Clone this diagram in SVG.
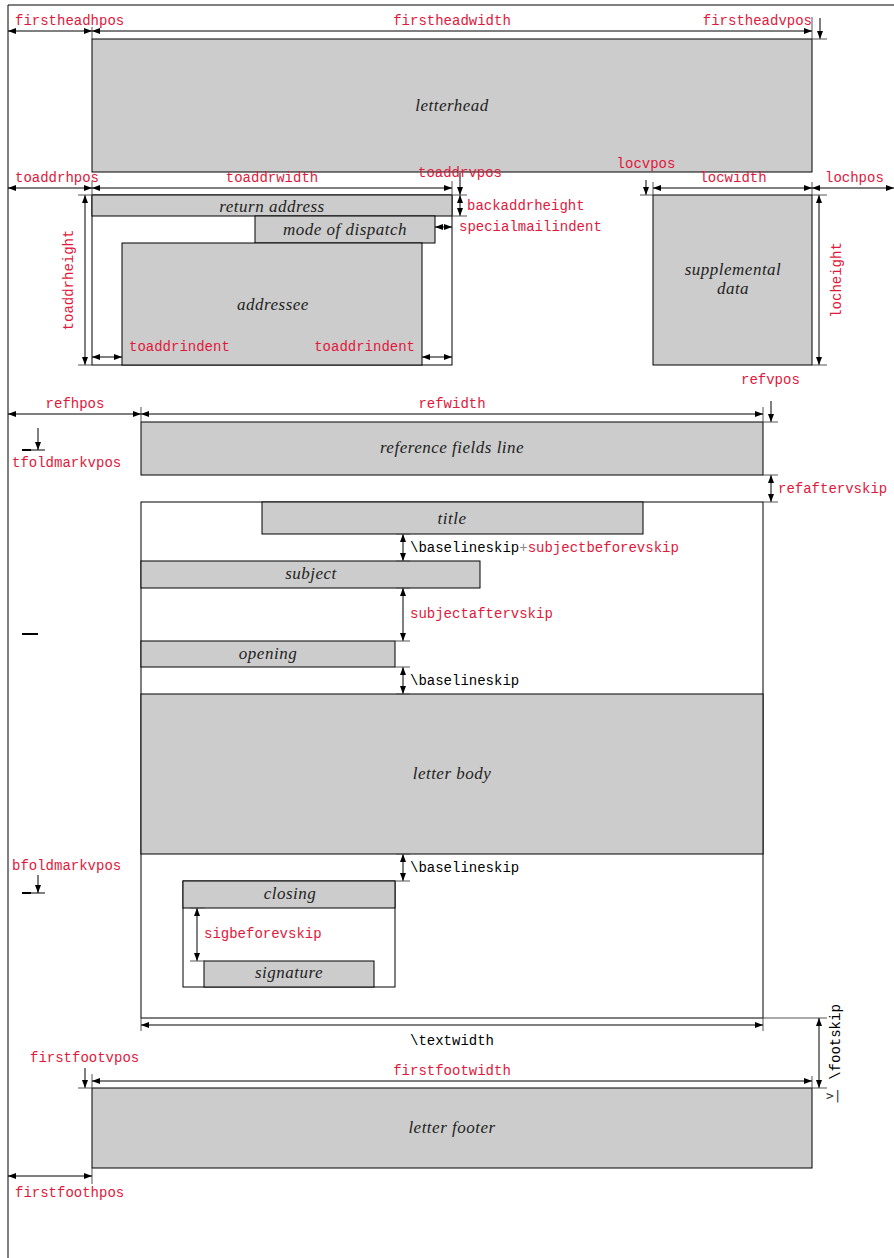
<svg xmlns="http://www.w3.org/2000/svg" width="894" height="1258" viewBox="0 0 894 1258">
<defs>
<marker id="ah" viewBox="0 0 8 6" refX="8" refY="3" markerWidth="8" markerHeight="6" markerUnits="userSpaceOnUse" orient="auto-start-reverse">
<path d="M0,0 L8,3 L0,6 Z" fill="#000"/>
</marker>
</defs>
<style>
.box{fill:#cccccc;stroke:#000;stroke-width:1}
.frame{fill:none;stroke:#000;stroke-width:1}
.dim{stroke:#000;stroke-width:1;fill:none;marker-start:url(#ah);marker-end:url(#ah)}
.one{stroke:#000;stroke-width:1;fill:none;marker-end:url(#ah)}
.ext{stroke:#555;stroke-width:1;fill:none}
.mark{stroke:#000;stroke-width:2}
.lbl{font-family:"Liberation Mono","DejaVu Sans Mono",monospace;font-size:14px;fill:#e0183c}
.blk{font-family:"Liberation Mono","DejaVu Sans Mono",monospace;font-size:14px;fill:#000}
.it{font-family:"Liberation Serif","DejaVu Serif",serif;font-style:italic;font-size:17px;letter-spacing:0.5px;fill:#222;text-anchor:middle}
.mid{text-anchor:middle}
.end{text-anchor:end}
</style>
<g id="page">
<line class="frame" x1="8" y1="5" x2="894" y2="5"/>
<line class="frame" x1="8" y1="5" x2="8" y2="1258"/>
</g>
<g id="letterhead"><rect class="box" x="92" y="39" width="720" height="133"/><text class="it" x="452" y="111">letterhead</text></g>
<g id="addressfield"><rect class="frame" x="92" y="195" width="360" height="170" fill="#fff"/></g>
<g id="returnaddress"><rect class="box" x="92" y="195" width="360" height="21"/><text class="it" x="272" y="212">return address</text></g>
<g id="dispatch"><rect class="box" x="255" y="216" width="180" height="27"/><text class="it" x="345" y="235">mode of dispatch</text></g>
<g id="addressee"><rect class="box" x="122" y="243" width="300" height="122"/><text class="it" x="273" y="310">addressee</text></g>
<g id="location"><rect class="box" x="653" y="195" width="159" height="170"/><text class="it" x="733" y="275">supplemental</text><text class="it" x="733" y="294">data</text></g>
<g id="reffields"><rect class="box" x="141" y="422" width="622" height="53"/><text class="it" x="452" y="453">reference fields line</text></g>
<g id="textbody"><rect class="frame" x="141" y="502" width="622" height="516"/></g>
<g id="title"><rect class="box" x="262" y="502" width="381" height="32"/><text class="it" x="452" y="524">title</text></g>
<g id="subject"><rect class="box" x="141" y="561" width="339" height="27"/><text class="it" x="311" y="579">subject</text></g>
<g id="opening"><rect class="box" x="141" y="641" width="254" height="26"/><text class="it" x="268" y="659">opening</text></g>
<g id="letterbody"><rect class="box" x="141" y="694" width="622" height="160"/><text class="it" x="452" y="779">letter body</text></g>
<g id="closingblock"><rect class="frame" x="183" y="881" width="212" height="106"/></g>
<g id="closing"><rect class="box" x="183" y="881" width="212" height="27"/><text class="it" x="290" y="899">closing</text></g>
<g id="signature"><rect class="box" x="204" y="961" width="170" height="26"/><text class="it" x="289" y="978">signature</text></g>
<g id="letterfooter"><rect class="box" x="92" y="1088" width="720" height="80"/><text class="it" x="452" y="1133">letter footer</text></g>
<g id="foldmarks">
<line class="mark" x1="22" y1="450" x2="31" y2="450"/><line class="frame" x1="31" y1="450" x2="45" y2="450"/>
<line class="mark" x1="22" y1="634" x2="38" y2="634"/>
<line class="mark" x1="22" y1="893" x2="31" y2="893"/><line class="frame" x1="31" y1="893" x2="45" y2="893"/>
</g>
<g id="connectors">
<line class="ext" x1="92" y1="27" x2="92" y2="39"/>
<line class="ext" x1="812" y1="17" x2="812" y2="39"/>
<line class="dim" x1="8" y1="31" x2="92" y2="31"/>
<line class="dim" x1="92" y1="31" x2="812" y2="31"/>
<line class="one" x1="820" y1="18" x2="820" y2="39"/>
<line class="ext" x1="812" y1="39" x2="827" y2="39"/>
<line class="ext" x1="92" y1="181" x2="92" y2="195"/>
<line class="ext" x1="452" y1="181" x2="452" y2="195"/>
<line class="dim" x1="8" y1="188" x2="92" y2="188"/>
<line class="dim" x1="92" y1="188" x2="452" y2="188"/>
<line class="one" x1="460" y1="173" x2="460" y2="195"/>
<line class="dim" x1="460" y1="195" x2="460" y2="216"/>
<line class="ext" x1="452" y1="195" x2="467" y2="195"/>
<line class="ext" x1="452" y1="216" x2="467" y2="216"/>
<line class="dim" x1="435" y1="227" x2="452" y2="227"/>
<line class="dim" x1="85" y1="195" x2="85" y2="365"/>
<line class="ext" x1="78" y1="195" x2="92" y2="195"/>
<line class="ext" x1="78" y1="365" x2="92" y2="365"/>
<line class="dim" x1="92" y1="357" x2="122" y2="357"/>
<line class="dim" x1="422" y1="357" x2="452" y2="357"/>
<line class="one" x1="646" y1="180" x2="646" y2="195"/>
<line class="ext" x1="640" y1="195" x2="653" y2="195"/>
<line class="ext" x1="653" y1="182" x2="653" y2="195"/>
<line class="ext" x1="812" y1="182" x2="812" y2="195"/>
<line class="dim" x1="653" y1="188" x2="812" y2="188"/>
<line class="dim" x1="812" y1="188" x2="894" y2="188"/>
<line class="dim" x1="819" y1="195" x2="819" y2="365"/>
<line class="ext" x1="812" y1="195" x2="827" y2="195"/>
<line class="ext" x1="812" y1="365" x2="827" y2="365"/>
<line class="ext" x1="141" y1="407" x2="141" y2="422"/>
<line class="ext" x1="763" y1="407" x2="763" y2="422"/>
<line class="dim" x1="8" y1="414" x2="141" y2="414"/>
<line class="dim" x1="141" y1="414" x2="763" y2="414"/>
<line class="one" x1="771" y1="401" x2="771" y2="422"/>
<line class="ext" x1="763" y1="422" x2="778" y2="422"/>
<line class="one" x1="38" y1="428" x2="38" y2="450"/>
<line class="dim" x1="771" y1="475" x2="771" y2="502"/>
<line class="ext" x1="763" y1="475" x2="778" y2="475"/>
<line class="ext" x1="763" y1="502" x2="778" y2="502"/>
<line class="dim" x1="403" y1="534" x2="403" y2="561"/>
<line class="ext" x1="396" y1="534" x2="410" y2="534"/>
<line class="ext" x1="396" y1="561" x2="410" y2="561"/>
<line class="dim" x1="403" y1="588" x2="403" y2="641"/>
<line class="ext" x1="396" y1="588" x2="410" y2="588"/>
<line class="ext" x1="395" y1="641" x2="410" y2="641"/>
<line class="dim" x1="403" y1="667" x2="403" y2="694"/>
<line class="ext" x1="395" y1="667" x2="410" y2="667"/>
<line class="ext" x1="396" y1="694" x2="410" y2="694"/>
<line class="dim" x1="403" y1="854" x2="403" y2="881"/>
<line class="ext" x1="396" y1="854" x2="410" y2="854"/>
<line class="ext" x1="395" y1="881" x2="410" y2="881"/>
<line class="one" x1="38" y1="875" x2="38" y2="893"/>
<line class="dim" x1="197" y1="908" x2="197" y2="961"/>
<line class="ext" x1="190" y1="908" x2="205" y2="908"/>
<line class="ext" x1="190" y1="961" x2="205" y2="961"/>
<line class="ext" x1="141" y1="1018" x2="141" y2="1031"/>
<line class="ext" x1="763" y1="1018" x2="763" y2="1031"/>
<line class="dim" x1="141" y1="1025" x2="763" y2="1025"/>
<line class="ext" x1="763" y1="1018" x2="827" y2="1018"/>
<line class="dim" x1="819" y1="1018" x2="819" y2="1088"/>
<line class="ext" x1="812" y1="1088" x2="827" y2="1088"/>
<line class="one" x1="85" y1="1068" x2="85" y2="1088"/>
<line class="ext" x1="78" y1="1088" x2="92" y2="1088"/>
<line class="ext" x1="92" y1="1074" x2="92" y2="1088"/>
<line class="ext" x1="812" y1="1076" x2="812" y2="1088"/>
<line class="dim" x1="92" y1="1081" x2="812" y2="1081"/>
<line class="ext" x1="92" y1="1168" x2="92" y2="1184"/>
<line class="dim" x1="8" y1="1176" x2="92" y2="1176"/>
</g>
<g id="labels">
<text class="lbl" x="15" y="25">firstheadhpos</text>
<text class="lbl mid" x="452" y="25">firstheadwidth</text>
<text class="lbl end" x="812" y="25">firstheadvpos</text>
<text class="lbl" x="15" y="182">toaddrhpos</text>
<text class="lbl mid" x="272" y="182">toaddrwidth</text>
<text class="lbl mid" x="460" y="177">toaddrvpos</text>
<text class="lbl" x="467" y="210">backaddrheight</text>
<text class="lbl" x="459" y="231">specialmailindent</text>
<text class="lbl mid" transform="translate(73,280) rotate(-90)">toaddrheight</text>
<text class="lbl" x="129" y="351">toaddrindent</text>
<text class="lbl end" x="415" y="351">toaddrindent</text>
<text class="lbl mid" x="646" y="168">locvpos</text>
<text class="lbl mid" x="733" y="182">locwidth</text>
<text class="lbl" x="825" y="182">lochpos</text>
<text class="lbl mid" transform="translate(841,280) rotate(-90)">locheight</text>
<text class="lbl" x="741" y="384">refvpos</text>
<text class="lbl mid" x="75" y="408">refhpos</text>
<text class="lbl mid" x="452" y="408">refwidth</text>
<text class="lbl" x="12" y="467">tfoldmarkvpos</text>
<text class="lbl" x="778" y="493">refaftervskip</text>
<text class="blk" x="410" y="552">\baselineskip<tspan fill="#888">+</tspan><tspan fill="#e0183c">subjectbeforevskip</tspan></text>
<text class="lbl" x="410" y="618">subjectaftervskip</text>
<text class="blk" x="410" y="685">\baselineskip</text>
<text class="blk" x="410" y="872">\baselineskip</text>
<text class="lbl" x="12" y="870">bfoldmarkvpos</text>
<text class="lbl" x="204" y="938">sigbeforevskip</text>
<text class="blk mid" x="452" y="1045">\textwidth</text>
<text class="blk mid" transform="translate(840,1042) rotate(-90)">\footskip</text>
<text x="826" y="1100" style="font-family:'DejaVu Sans Mono',monospace;font-size:13px;fill:#333">&gt;|</text>
<text class="lbl" x="30" y="1062">firstfootvpos</text>
<text class="lbl mid" x="452" y="1075">firstfootwidth</text>
<text class="lbl" x="15" y="1197">firstfoothpos</text>
</g>
</svg>
